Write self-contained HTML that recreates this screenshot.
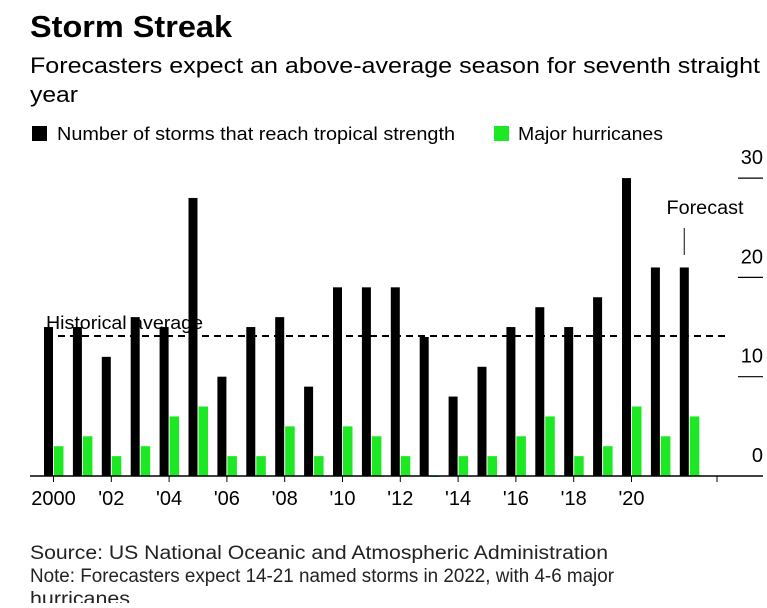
<!DOCTYPE html>
<html><head><meta charset="utf-8"><style>
body{margin:0;background:#fff;width:767px;height:603px;overflow:hidden;font-family:"Liberation Sans",sans-serif;}
</style></head><body>
<svg width="767" height="603" xmlns="http://www.w3.org/2000/svg" style="font-family:'Liberation Sans',sans-serif">
<text x="30" y="37" font-size="31" font-weight="bold" fill="#000" textLength="202" lengthAdjust="spacingAndGlyphs">Storm Streak</text>
<text x="30" y="73" font-size="22" fill="#000" textLength="730" lengthAdjust="spacingAndGlyphs">Forecasters expect an above-average season for seventh straight</text>
<text x="30" y="102" font-size="22" textLength="48" lengthAdjust="spacingAndGlyphs" fill="#000">year</text>
<rect x="32" y="126" width="15" height="15" fill="#000"/>
<text x="57" y="140" font-size="18" textLength="398" lengthAdjust="spacingAndGlyphs">Number of storms that reach tropical strength</text>
<rect x="494" y="126" width="15" height="15" fill="#1de824"/>
<text x="518" y="140" font-size="18" textLength="145" lengthAdjust="spacingAndGlyphs">Major hurricanes</text>
<g id="bars"></g>
<text x="30" y="559" font-size="19" textLength="578" lengthAdjust="spacingAndGlyphs" fill="#222">Source: US National Oceanic and Atmospheric Administration</text>
<text x="30" y="582" font-size="19" textLength="584" lengthAdjust="spacingAndGlyphs" fill="#222">Note: Forecasters expect 14-21 named storms in 2022, with 4-6 major</text>
<text x="30" y="605" font-size="19" textLength="100" lengthAdjust="spacingAndGlyphs" fill="#222">hurricanes</text>
</svg>
<script>
const years=[2000,2001,2002,2003,2004,2005,2006,2007,2008,2009,2010,2011,2012,2013,2014,2015,2016,2017,2018,2019,2020,2021,2022];
const storms=[15,15,12,16,15,28,10,15,16,9,19,19,19,14,8,11,15,17,15,18,30,21,21];
const major=[3,4,2,3,6,7,2,2,5,2,5,4,2,0,2,2,4,6,2,3,7,4,6];
const yTicks=[0,10,20,30];
const xLabels=["2000","'02","'04","'06","'08","'10","'12","'14","'16","'18","'20"];
const avg=14.1;
const NS="http://www.w3.org/2000/svg";
const g=document.getElementById('bars');
const base=476, unit=9.93;
const y=v=>base-v*unit;
const x=i=>44+28.9*i;
function mk(t,a){const e=document.createElementNS(NS,t);for(const k in a)e.setAttribute(k,a[k]);g.appendChild(e);return e;}
yTicks.forEach(v=>{
  if(v>0){const l=mk('line',{x1:738,x2:763,y1:y(v),y2:y(v),stroke:'#000','stroke-width':1.2});
  
  }
  const t=mk('text',{x:763,y:y(v)-14,'font-size':20,'text-anchor':'end'});t.textContent=v;
  
  
});
storms.forEach((v,i)=>{
  const r=mk('rect',{x:x(i),y:y(v),width:9,height:v*unit,fill:'#000'});
  
  
  const m=major[i];
  const r2=mk('rect',{x:x(i)+10,y:y(m),width:9.5,height:Math.max(m*unit,1),fill:'#1de824'});
  
  
});
const d=mk('line',{x1:46,x2:727,y1:y(avg),y2:y(avg),stroke:'#000','stroke-width':2,'stroke-dasharray':'7,5'});


const dt=mk('text',{x:46,y:y(avg)-7,'font-size':18,textLength:157,lengthAdjust:'spacingAndGlyphs'});dt.textContent='Historical average';


const bl=mk('line',{x1:30,x2:763,y1:base,y2:base,stroke:'#000','stroke-width':1.5});


xLabels.forEach((s,k)=>{
  const cx=x(k*2)+9.5;
  const tk=mk('line',{x1:cx,x2:cx,y1:base,y2:base+6,stroke:'#000'});
  
  
  const t=mk('text',{x:cx,y:505,'font-size':20,'text-anchor':'middle'});t.textContent=s;
  
  
});
const tk2=mk('line',{x1:717,x2:717,y1:base,y2:base+6,stroke:'#000'});


const fx=x(22)+4.5;
const fl=mk('line',{x1:fx,x2:fx,y1:228,y2:255,stroke:'#333','stroke-width':1.2});


const ft=mk('text',{x:705,y:214,'font-size':19,'text-anchor':'middle',textLength:77,lengthAdjust:'spacingAndGlyphs'});ft.textContent='Forecast';


</script>
</body></html>
